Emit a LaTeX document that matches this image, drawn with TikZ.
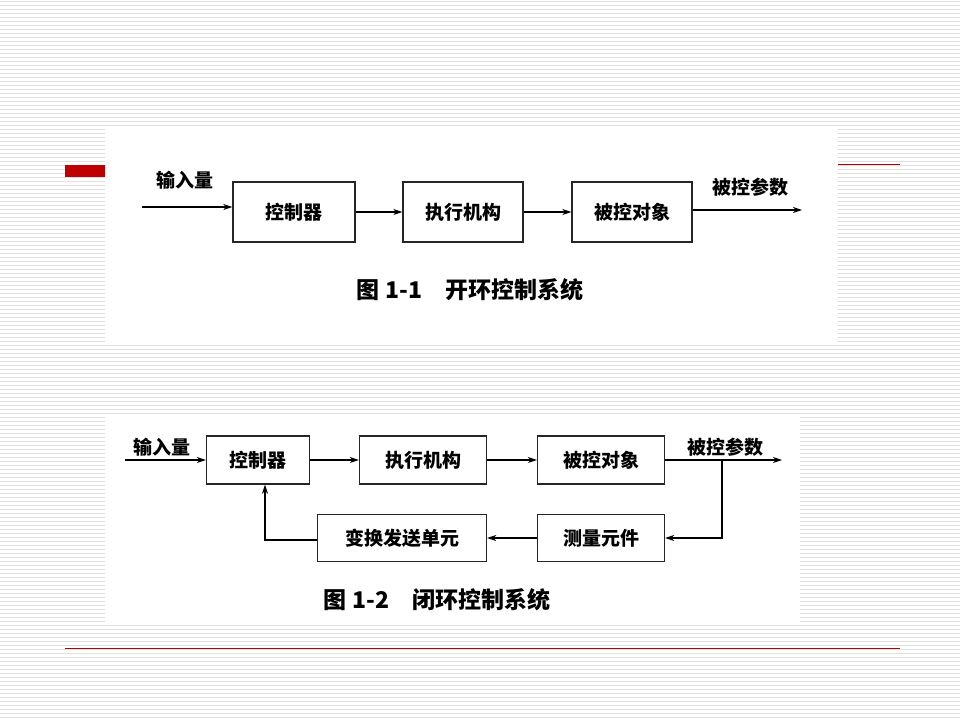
\documentclass[tikz,border=0pt]{standalone}
\usepackage{fontspec}
\newfontfamily\cjk{Noto Sans CJK SC}
\usetikzlibrary{arrows.meta}
\begin{document}
\begin{tikzpicture}[x=1pt,y=-1pt,
  box/.style={draw=black!85,line width=1.4pt,font=\cjk\bfseries\fontsize{19}{19}\selectfont},
  lab/.style={font=\cjk\bfseries\fontsize{19}{19}\selectfont},
  captxt/.style={font=\cjk\bfseries\fontsize{23}{23}\selectfont},
  arr/.style={-{Stealth[length=9pt,width=6pt]},line width=1.2pt}]
\useasboundingbox (0,0) rectangle (960,720);
\fill[white] (0,0) rectangle (960,720);
\foreach \i in {0,...,179} \draw[black!12,line width=0.6pt] (0,\i*4+1) -- (960,\i*4+1);
\fill[white] (105,128) rectangle (838,343);
\fill[white] (105,415) rectangle (800,622);
\fill[red!75!black] (65,165) rectangle (105,177);
\draw[red!70!black,line width=0.8pt] (838,164) -- (900,164);
\draw[red!70!black,line width=0.8pt] (65,648) -- (900,648);
% top
\node[box,minimum width=122pt,minimum height=60pt] (a1) at (294,212) {控制器};
\node[box,minimum width=120pt,minimum height=60pt] (b1) at (463,212) {执行机构};
\node[box,minimum width=120pt,minimum height=60pt] (c1) at (632,212) {被控对象};
\coordinate (in1) at (142,207);
\coordinate (out1) at (802,210);
\node[lab] (li1) at (185,180) {输入量};
\node[lab] (lo1) at (750,187) {被控参数};
\draw[arr] (in1) -- (in1 -| a1.west);
\draw[arr] (a1) -- (b1);
\draw[arr] (b1) -- (c1);
\draw[arr] (c1.east |- out1) -- (out1);
\node[captxt] (cap1) at (470,290) {图 1-1\quad 开环控制系统};
% bottom
\node[box,minimum width=103pt,minimum height=48pt] (a2) at (258,460) {控制器};
\node[box,minimum width=127pt,minimum height=48pt] (b2) at (423,460) {执行机构};
\node[box,minimum width=127pt,minimum height=48pt] (c2) at (601,460) {被控对象};
\node[box,minimum width=127pt,minimum height=47pt] (d2) at (601,538) {测量元件};
\node[box,minimum width=169pt,minimum height=47pt] (e2) at (402,538) {变换发送单元};
\coordinate (in2) at (125,460);
\coordinate (out2) at (782,460);
\coordinate (t2) at (722,460);
\coordinate (t3) at (722,538);
\coordinate (t4) at (265,540);
\node[lab] (li2) at (162,447) {输入量};
\node[lab] (lo2) at (725,447) {被控参数};
\draw[arr] (in2) -- (a2);
\draw[arr] (a2) -- (b2);
\draw[arr] (b2) -- (c2);
\draw[arr] (c2) -- (out2);
\draw[arr] (t2) -- (t3) -- (d2.east);
\draw[arr] (d2) -- (e2);
\draw[arr] (e2.west |- t4) -- (t4) -- (t4 |- a2.south);
\node[captxt] (cap2) at (437,600) {图 1-2\quad 闭环控制系统};
\end{tikzpicture}
\end{document}
